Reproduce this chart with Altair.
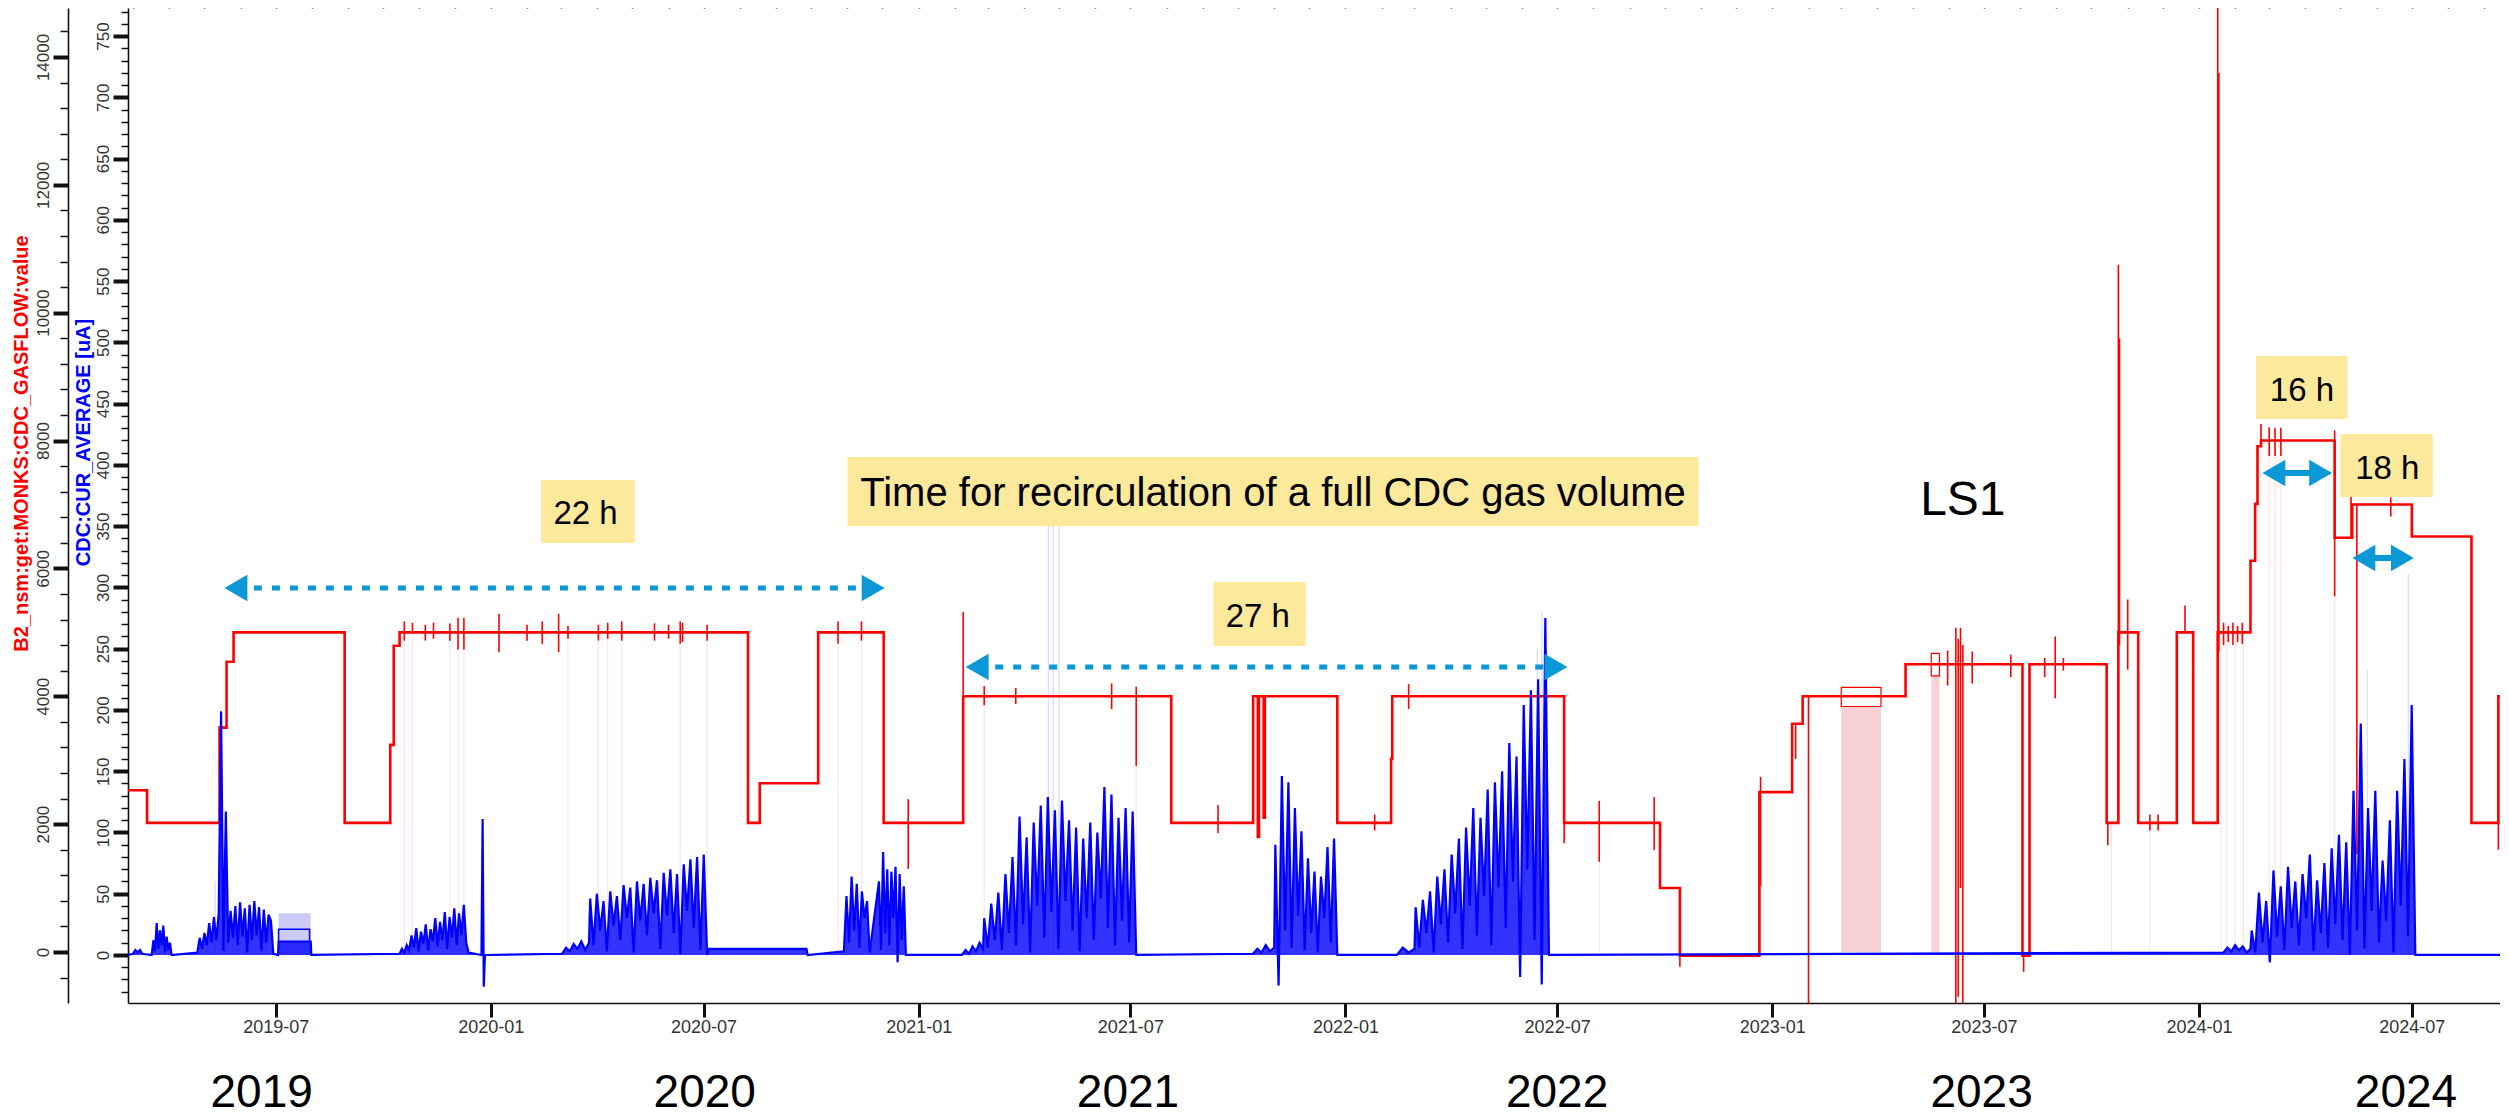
import altair as alt
import pandas as pd

FONT = "Liberation Sans, Helvetica, Arial, sans-serif"
RED = "#ff0000"
BLUE = "#0000ff"
ARROW = "#0a98d6"
YELLOW = "#fce99c"
PINK = "#f8d2d2"
LAVENDER = "#cbcbf6"

# ---------------- axes ranges ----------------
RED_DOMAIN = [-798, 14766]
BLUE_DOMAIN = [-39.2, 772.9]
X_START = alt.DateTime(year=2019, month=2, date=24, hours=17)
X_END = alt.DateTime(year=2024, month=9, date=14, hours=10)

major_tick_labels = ["2019-07", "2020-01", "2020-07", "2021-01", "2021-07", "2022-01",
                     "2022-07", "2023-01", "2023-07", "2024-01", "2024-07"]
red_tick_values = [0, 2000, 4000, 6000, 8000, 10000, 12000, 14000]
blue_tick_values = [0, 50, 100, 150, 200, 250, 300, 350, 400, 450, 500, 550, 600, 650, 700, 750]

# ---------------- red: B2_nsm:get:MONKS:CDC_GASFLOW (step changes) ----------------
red_dates = ["2019-02-24T17:00", "2019-03-13", "2019-05-14", "2019-05-20", "2019-05-26", "2019-08-29",
             "2019-10-07", "2019-10-10", "2019-10-15", "2020-08-08", "2020-08-18", "2020-10-07",
             "2020-12-02", "2021-02-08", "2021-08-05", "2021-10-14", "2021-10-18", "2021-10-19",
             "2021-10-23", "2021-10-24", "2021-12-25", "2022-02-09", "2022-02-10", "2022-07-07",
             "2022-09-27", "2022-10-14", "2022-12-21", "2023-01-18", "2023-01-27", "2023-04-25",
             "2023-08-03", "2023-08-09", "2023-10-14", "2023-10-24", "2023-11-10", "2023-12-13",
             "2023-12-27", "2024-01-17", "2024-02-14", "2024-02-18", "2024-02-20", "2024-02-23",
             "2024-04-26", "2024-05-11", "2024-07-01", "2024-08-21", "2024-09-13", "2024-09-14T10:00"]
red_values = [2530, 2020, 3510, 4540, 5000, 2020,
              3240, 4790, 5000, 2020, 2640, 5000,
              2020, 4000, 2020, 4000, 1800, 4000,
              2100, 4000, 2020, 3020, 4000, 2020,
              1000, -60, 2500, 3570, 4000, 4500,
              -60, 4500, 2020, 5000, 2020, 5000,
              2020, 5000, 6120, 7010, 7910, 8000,
              6480, 7000, 6500, 2020, 4000, 4000]

# short red excursions (spikes)
spike_dates = ["2019-10-19", "2019-10-26", "2019-11-06", "2019-11-13", "2019-11-27", "2019-12-04",
               "2019-12-09", "2020-01-08", "2020-02-01", "2020-02-14", "2020-02-28", "2020-03-07",
               "2020-04-02", "2020-04-10", "2020-04-22", "2020-05-20", "2020-06-01", "2020-06-11",
               "2020-06-13", "2020-07-04", "2020-10-24", "2020-11-13", "2020-12-23", "2021-02-08",
               "2021-02-26", "2021-03-25", "2021-06-15", "2021-07-06", "2021-09-14", "2022-01-26",
               "2022-02-24", "2022-07-07", "2022-08-06", "2022-09-22", "2022-10-14", "2022-12-22",
               "2023-01-21", "2023-02-01", "2023-05-31", "2023-06-07", "2023-06-09", "2023-06-11",
               "2023-06-13", "2023-06-21", "2023-07-24", "2023-08-04", "2023-08-22", "2023-08-31",
               "2023-09-07", "2023-10-15", "2023-10-24", "2023-10-25", "2023-11-01", "2023-11-20",
               "2023-11-27", "2023-12-20", "2024-01-17", "2024-01-18", "2024-01-22", "2024-01-26",
               "2024-01-30", "2024-02-03", "2024-02-07", "2024-02-23", "2024-03-01", "2024-03-06",
               "2024-03-11", "2024-04-26", "2024-05-10", "2024-05-15", "2024-06-13", "2024-09-13"]
spike_hi = [5170, 5150, 5120, 5150, 5140, 5230,
            5230, 5290, 5120, 5170, 5290, 5100,
            5120, 5150, 5170, 5140, 5120, 5170,
            5150, 5120, 5170, 5170, 2390, 5320,
            4160, 4130, 4200, 4150, 2300, 2150,
            4190, 2020, 2365, 2425, 1000, 2740,
            3570, 4000, 4716, 5070, 4900, 5070,
            4800, 4700, 4650, -60, 4600, 4935,
            4600, 2020, 10750, 9600, 5514, 2150,
            2150, 5420, 14790, 13750, 5150, 5100,
            5150, 5100, 5150, 8260, 8207, 8200,
            8200, 8157, 7309, 7000, 7111, 4000]
spike_lo = [4870, 5000, 4870, 4900, 4870, 4730,
            4730, 4690, 4870, 4820, 4690, 4900,
            4870, 4900, 4870, 4870, 4900, 4820,
            4850, 4870, 4820, 4870, 1300, 3800,
            3860, 3880, 3800, 2910, 1860, 1900,
            3800, 1700, 1411, 1595, -230, 1030,
            3020, -800, 4167, -800, -700, 1000,
            -800, 4200, 4300, -310, 4300, 3968,
            4400, 1670, 2020, 4800, 4417, 1900,
            1900, 5000, 2020, 4700, 4800, 4850,
            4800, 4850, 4820, 7900, 7758, 7760,
            7760, 5564, 6480, 1524, 6811, 1600]

# faint pink min/max traces
pink_dates = ["2019-10-19", "2019-10-26", "2019-11-27", "2019-12-04", "2019-12-09", "2020-03-07",
              "2020-04-02", "2020-04-10", "2020-04-22", "2020-06-11", "2020-07-04", "2020-10-24",
              "2020-11-13", "2021-02-26", "2021-07-06", "2022-08-06", "2023-10-18", "2023-11-20",
              "2024-01-20", "2024-01-25", "2024-02-01", "2024-02-08", "2024-03-01", "2024-03-06",
              "2024-03-11", "2024-04-26"]
pink_top = [5000, 5000, 5000, 5000, 5000, 5000,
            5000, 5000, 5000, 5000, 5000, 5000,
            5000, 4000, 4000, 2020, 2020, 2020,
            5000, 5000, 5000, 5000, 8000, 8000,
            8000, 8000]

# LS1 shaded ranges
ls1_start = ["2023-03-01", "2023-05-17"]
ls1_end = ["2023-04-04", "2023-05-24"]
ls1_base = [3840, 4320]
ls1_top = [4140, 4670]

# ---------------- blue: CDC:CUR_AVERAGE [uA] ----------------
blue_fixed_dates = ["2019-02-24T17:00", "2019-07-03", "2019-07-03T12:00", "2019-07-31",
                    "2019-07-31T12:00", "2020-07-05", "2020-09-27", "2020-09-28", "2024-09-14T10:00"]
blue_fixed_values = [0, 0, 11, 11, 0, 5, 5, 0, 0]

burst_start = ["2019-03-01", "2019-03-17", "2019-04-25", "2019-10-15", "2019-12-24", "2020-03-02",
               "2020-03-26", "2020-10-29", "2020-11-28", "2021-02-07", "2021-02-26", "2021-10-14",
               "2021-11-02", "2022-02-14", "2022-03-02", "2024-01-22", "2024-02-15"]
burst_end = ["2019-03-09", "2019-04-03", "2019-06-29", "2019-12-13", "2019-12-27", "2020-03-25",
             "2020-07-04", "2020-11-20", "2020-12-21", "2021-02-25", "2021-07-06", "2021-11-01",
             "2021-12-25", "2022-03-01", "2022-06-24", "2024-02-14", "2024-07-04"]
burst_values = [
    [1, 4, 2, 4, 1],
    [0, 12, 3, 26, 5, 20, 8, 24, 2, 15, 4, 10, 0],
    [2, 14, 5, 18, 8, 26, 10, 31, 12, 34, 199, 3, 117, 10, 36, 14, 40, 8, 43, 15, 38, 2, 41, 12,
     44, 16, 39, 3, 37, 10, 33, 28, 1],
    [1, 5, 2, 8, 4, 16, 6, 22, 3, 19, 9, 25, 4, 21, 11, 30, 7, 27, 12, 35, 5, 31, 14, 38, 8, 34,
     16, 41, 10, 2],
    [0, 111, -26, 0],
    [1, 6, 3, 9, 5, 11, 4, 10],
    [46, 8, 50, 20, 44, 3, 52, 24, 48, 12, 57, 30, 55, 2, 60, 28, 58, 16, 63, 34, 61, 5, 67, 32,
     70, 18, 66, 1, 74, 36, 78, 22, 80, 4, 82, 0],
    [3, 48, 10, 64, 20, 58, 6, 52, 30, 44, 2],
    [60, 4, 84, 18, 70, 8, 68, 30, 72, -6, 66, 12, 56, 0],
    [0, 4, 1, 7, 3, 10, 5],
    [30, 6, 42, 12, 51, 4, 66, 18, 80, 8, 113, 25, 96, 2, 108, 40, 122, 14, 129, 35, 118, 5, 126,
     44, 110, 20, 104, 3, 95, 30, 108, 12, 100, 46, 137, 22, 131, 8, 112, 28, 120, 10, 117, 0],
    [1, 5, 2, 8, 3, 6],
    [90, -25, 146, 20, 141, 6, 120, 32, 101, 4, 79, 18, 68, 2, 64, 30, 88, 10, 95, 0],
    [0, 6, 2, 5],
    [39, 6, 45, 18, 52, 2, 64, 25, 70, 10, 82, 34, 95, 5, 104, 40, 120, 16, 112, 48, 135, 8, 141,
     55, 150, 22, 173, 60, 162, -18, 204, 70, 216, 12, 225, -24, 275, 0],
    [2, 6, 3, 8, 4, 7, 2, 5],
    [20, 2, 51, 10, 44, -6, 69, 15, 56, 4, 72, 22, 60, 8, 66, 30, 82, 3, 61, 18, 75, 6, 87, 25,
     98, 12, 92, 0, 134, 20, 189, 5, 120, 36, 134, 10, 77, 28, 110, 2, 134, 40, 160, 15, 204, 0],
]

# faint lavender envelope traces
lav_dates = ["2019-05-10", "2021-04-22", "2021-04-26", "2021-05-01", "2022-06-14", "2022-06-18",
             "2024-05-24", "2024-06-28"]
lav_top = [60, 366, 350, 360, 250, 280, 233, 311]

# 2019-07 min/max band and its upper trace
band_start = ["2019-07-03T12:00"]
band_end = ["2019-07-31"]
band_lo = [0]
band_hi = [34]
seg_dates = ["2019-07-03T12:00", "2019-07-03T12:00", "2019-07-30", "2019-07-30"]
seg_values = [11, 21, 21, 11]

# ---------------- annotations ----------------
box_start = ["2020-02-13", "2020-11-01", "2021-09-10", "2024-02-18T17:00", "2024-05-01"]
box_end = ["2020-05-03", "2022-10-30", "2021-11-28", "2024-05-07", "2024-07-19"]
box_lo = [6398, 6664, 4786, 8337, 7117]
box_hi = [7383, 7743, 5788, 9323, 8103]

note_text = ["22 h", "Time for recirculation of a full CDC gas volume", "27 h", "16 h", "18 h", "LS1"]
note_date = ["2020-03-22", "2021-10-31", "2021-10-18", "2024-03-29", "2024-06-10", "2023-06-13"]
note_value = [6695, 6976, 5084, 8619, 7399, 6836]
note_size = [33, 40, 33, 33, 33, 48]

dash_start = ["2019-05-28", "2021-02-20"]
dash_end = ["2020-11-23", "2022-06-30"]
dash_value = [5694, 4458]
solid_start = ["2024-03-05", "2024-05-21"]
solid_end = ["2024-04-14", "2024-06-23"]
solid_value = [7493, 6163]

year_text = ["2019", "2020", "2021", "2022", "2023", "2024"]
year_date = ["2019-06-19", "2020-07-02", "2021-06-29", "2022-07-01", "2023-06-29", "2024-06-26"]
year_value = [-2430, -2430, -2430, -2430, -2430, -2430]

# ---------------- build tables ----------------
def dt(s):
    return list(pd.to_datetime(s, format="ISO8601"))

red_df = pd.DataFrame({"t": dt(red_dates), "v": red_values})
spike_df = pd.DataFrame({"t": dt(spike_dates), "hi": spike_hi, "lo": spike_lo})
pink_df = pd.DataFrame({"t": dt(pink_dates), "top": pink_top, "lo": [0] * len(pink_dates)})
ls1_df = pd.DataFrame({"s": dt(ls1_start), "e": dt(ls1_end), "base": ls1_base, "top": ls1_top,
                       "zero": [0] * len(ls1_start)})

rows_t = dt(blue_fixed_dates)
rows_v = list(blue_fixed_values)
for s, e, vals in zip(burst_start, burst_end, burst_values):
    rows_t += list(pd.date_range(s, e, periods=len(vals)))
    rows_v += list(vals)
blue_df = pd.DataFrame({"t": rows_t, "v": rows_v}).sort_values("t").reset_index(drop=True)
blue_df["zero"] = 0

lav_df = pd.DataFrame({"t": dt(lav_dates), "top": lav_top, "lo": [0] * len(lav_dates)})
band_df = pd.DataFrame({"s": dt(band_start), "e": dt(band_end), "lo": band_lo, "hi": band_hi})
seg_df = pd.DataFrame({"t": dt(seg_dates), "v": seg_values, "i": list(range(len(seg_dates)))})

box_df = pd.DataFrame({"s": dt(box_start), "e": dt(box_end), "lo": box_lo, "hi": box_hi})
note_df = pd.DataFrame({"t": dt(note_date), "v": note_value, "label": note_text, "fs": note_size})
dash_df = pd.DataFrame({"s": dt(dash_start), "e": dt(dash_end), "v": dash_value})
solid_df = pd.DataFrame({"s": dt(solid_start), "e": dt(solid_end), "v": solid_value})
head_df = pd.DataFrame({
    "t": dt(dash_start + dash_end + solid_start + solid_end),
    "v": dash_value + dash_value + solid_value + solid_value,
    "shape": ["triangle-left"] * 2 + ["triangle-right"] * 2 + ["triangle-left"] * 2 + ["triangle-right"] * 2,
})
year_df = pd.DataFrame({"t": dt(year_date), "v": year_value, "label": year_text})

# ---------------- scales & axes ----------------
XSCALE = alt.Scale(domain=[X_START, X_END], nice=False)
RSCALE = alt.Scale(domain=RED_DOMAIN, nice=False, zero=False)
BSCALE = alt.Scale(domain=BLUE_DOMAIN, nice=False, zero=False)

major_dt = [alt.DateTime(year=int(s[:4]), month=int(s[5:]), date=1) for s in major_tick_labels]
minor_dt = [alt.DateTime(year=int(d.year), month=int(d.month), date=1)
            for d in pd.date_range("2019-03-01", "2024-09-01", freq="MS")]

X_MAJOR = alt.Axis(values=major_dt, format="%Y-%m", tickSize=14, tickWidth=3, tickColor="#111",
                   labelFontSize=18, labelColor="#333", labelFont=FONT, labelPadding=1,
                   labelFlush=False, labelOverlap=False, domainColor="#111", domainWidth=1.6,
                   grid=False, title=None)
X_MINOR = alt.Axis(values=minor_dt, labels=False, tickSize=7, tickWidth=1.5, tickColor="#111",
                   domain=False, grid=False, title=None)

RED_MAJOR = alt.Axis(orient="left", offset=60, values=red_tick_values, format="d", tickSize=15,
                     tickWidth=4, tickColor="#111", labelAngle=270, labelAlign="center",
                     labelBaseline="alphabetic", labelPadding=5, labelFontSize=17, labelColor="#333",
                     labelFont=FONT, labelFlush=False, labelOverlap=False, domainColor="#111",
                     domainWidth=1.6, grid=False, title="B2_nsm:get:MONKS:CDC_GASFLOW:value",
                     titleColor=RED, titleFont=FONT, titleFontSize=20, titleFontWeight="bold",
                     titleAngle=270, titleX=-47, titleY=435, titleAlign="center",
                     titleBaseline="middle")
RED_MINOR = alt.Axis(orient="left", offset=60, values=list(range(-400, 14401, 400)), labels=False,
                     tickSize=8, tickWidth=1.5, tickColor="#111", domain=False, grid=False, title=None)
BLUE_MAJOR = alt.Axis(orient="left", offset=0, values=blue_tick_values, format="d", tickSize=15,
                      tickWidth=4, tickColor="#111", labelAngle=270, labelAlign="center",
                      labelBaseline="alphabetic", labelPadding=5, labelFontSize=17, labelColor="#333",
                      labelFont=FONT, labelFlush=False, labelOverlap=False, domainColor="#111",
                      domainWidth=1.6, grid=False, title="CDC:CUR_AVERAGE [uA]", titleColor=BLUE,
                      titleFont=FONT, titleFontSize=20, titleFontWeight="bold", titleAngle=270,
                      titleX=-45, titleY=434, titleAlign="center", titleBaseline="middle")
BLUE_MINOR = alt.Axis(orient="left", offset=0, values=list(range(-30, 771, 10)), labels=False,
                      tickSize=7, tickWidth=1.5, tickColor="#111", domain=False, grid=False, title=None)


def tx(field, axis=None):
    return alt.X(field, type="temporal", scale=XSCALE, axis=axis)


def ry(field, axis=None):
    return alt.Y(field, type="quantitative", scale=RSCALE, axis=axis)


def by(field, axis=None):
    return alt.Y(field, type="quantitative", scale=BSCALE, axis=axis)


# ---------------- layers ----------------
pink_layer = alt.Chart(pink_df).mark_rule(color=RED, opacity=0.12, strokeWidth=1).encode(
    x=tx("t"), y=ry("lo"), y2="top")
ls1_fill = alt.Chart(ls1_df).mark_rect(color=PINK).encode(
    x=tx("s"), x2="e", y=ry("zero"), y2="base")
ls1_box = alt.Chart(ls1_df).mark_rect(fillOpacity=0, stroke=RED, strokeWidth=1.2).encode(
    x=tx("s"), x2="e", y=ry("base"), y2="top")
red_line = alt.Chart(red_df).mark_line(color=RED, strokeWidth=2.6, interpolate="step-after").encode(
    x=tx("t", X_MAJOR), y=ry("v", RED_MAJOR))
red_spikes = alt.Chart(spike_df).mark_rule(color=RED, strokeWidth=1.6).encode(
    x=tx("t"), y=ry("lo", RED_MINOR), y2="hi")

lav_layer = alt.Chart(lav_df).mark_rule(color=BLUE, opacity=0.13, strokeWidth=1.5).encode(
    x=tx("t"), y=by("lo", BLUE_MINOR), y2="top")
band_layer = alt.Chart(band_df).mark_rect(color=LAVENDER).encode(
    x=tx("s"), x2="e", y=by("lo"), y2="hi")
blue_fill = alt.Chart(blue_df).mark_area(color=BLUE, opacity=0.8).encode(
    x=tx("t"), y=by("v"), y2="zero")
blue_line = alt.Chart(blue_df).mark_line(color=BLUE, strokeWidth=2.2).encode(
    x=tx("t", X_MINOR), y=by("v", BLUE_MAJOR))
seg_layer = alt.Chart(seg_df).mark_line(color=BLUE, strokeWidth=1.5).encode(
    x=tx("t"), y=by("v"), order="i:Q")

boxes = alt.Chart(box_df).mark_rect(color=YELLOW).encode(
    x=tx("s"), x2="e", y=ry("lo"), y2="hi")
notes = alt.Chart(note_df).mark_text(font=FONT, color="black", align="center",
                                     baseline="alphabetic").encode(
    x=tx("t"), y=ry("v"), text="label:N", size=alt.Size("fs:Q", scale=None))
dashes = alt.Chart(dash_df).mark_rule(color=ARROW, strokeWidth=5, strokeDash=[8, 10]).encode(
    x=tx("s"), x2="e", y=ry("v"))
solids = alt.Chart(solid_df).mark_rule(color=ARROW, strokeWidth=6).encode(
    x=tx("s"), x2="e", y=ry("v"))
heads = alt.Chart(head_df).mark_point(filled=True, opacity=1, size=700, color=ARROW,
                                      strokeWidth=0).encode(
    x=tx("t"), y=ry("v"), shape=alt.Shape("shape:N", scale=None))
years = alt.Chart(year_df).mark_text(font=FONT, fontSize=46, color="black", align="center",
                                     baseline="alphabetic").encode(
    x=tx("t"), y=ry("v"), text="label:N")

chart = alt.layer(
    pink_layer, ls1_fill, ls1_box, red_line, red_spikes,
    lav_layer, band_layer, blue_fill, blue_line, seg_layer,
    boxes, notes, dashes, solids, heads, years,
).resolve_scale(y="independent").resolve_axis(x="independent").properties(
    width=2372, height=995,
    autosize=alt.AutoSizeParams(type="none"),
    padding={"left": 120, "top": 0, "right": 0, "bottom": 114},
).configure_view(strokeWidth=0)

chart.save("out.html", embed_options={"renderer": "svg", "actions": False})
